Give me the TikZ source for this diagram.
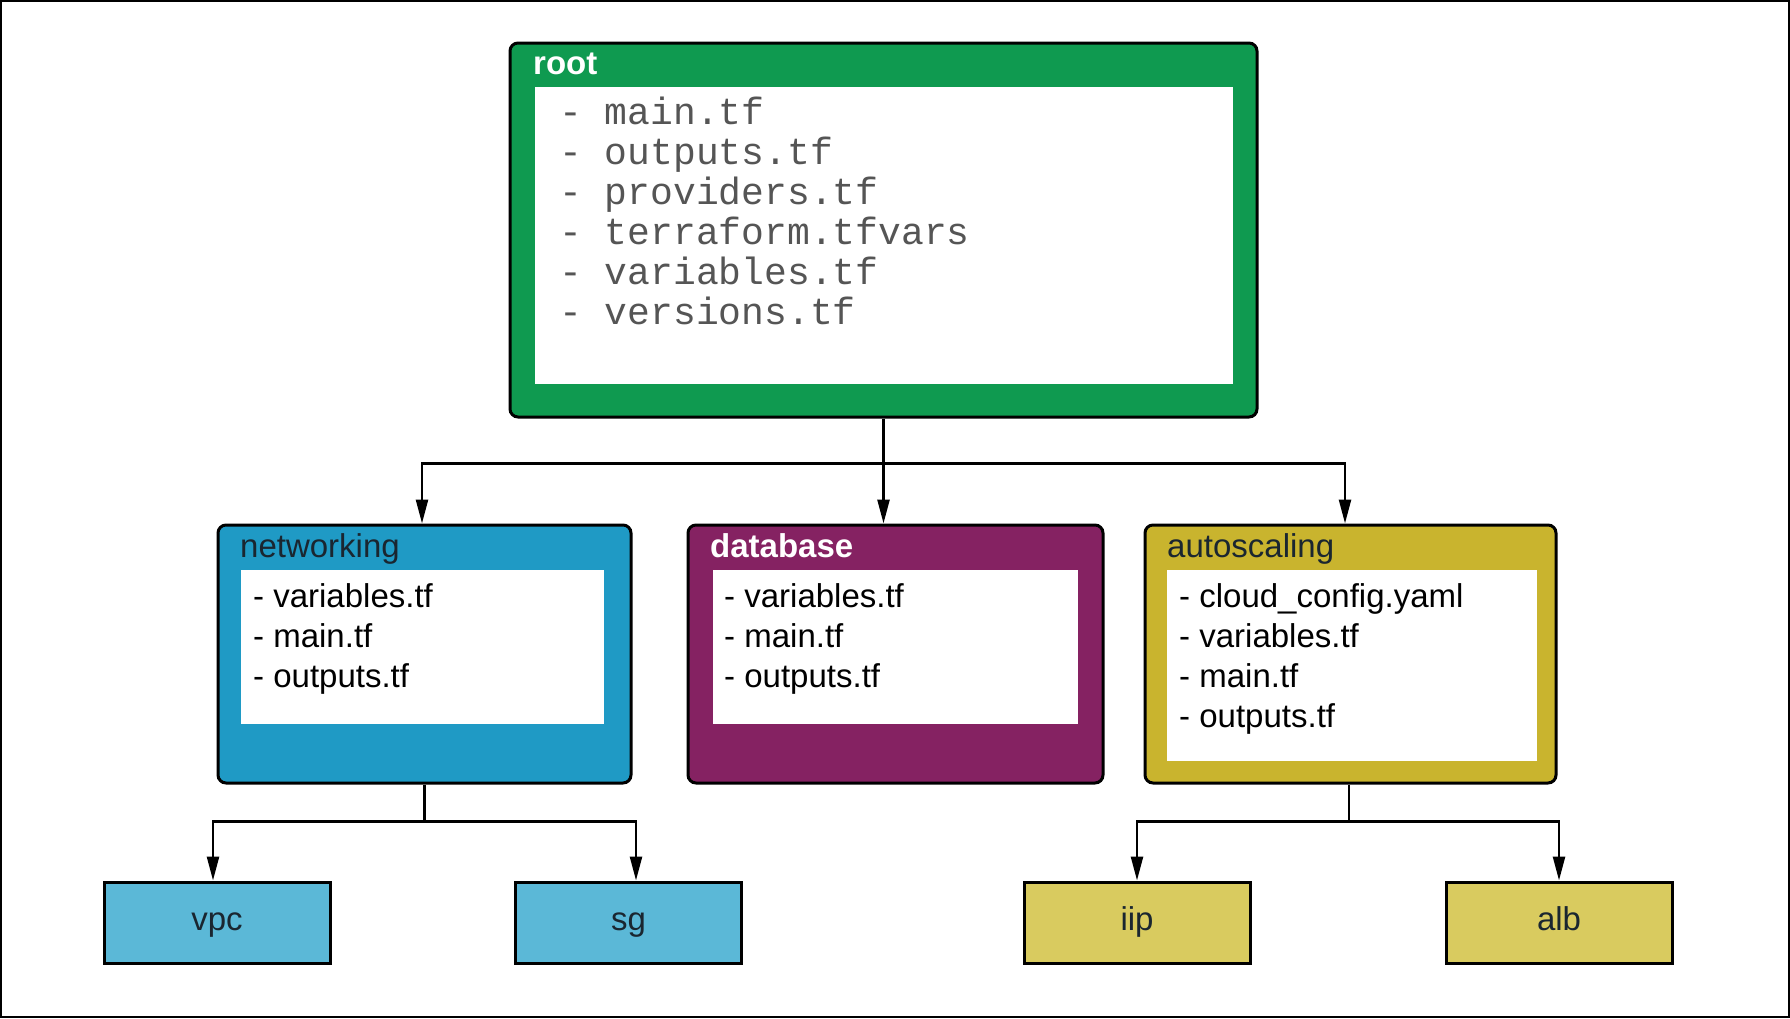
\documentclass[tikz,border=0pt]{standalone}
\usepackage{fontspec}
\setmainfont{Liberation Sans}
\setmonofont{Liberation Mono}
\usetikzlibrary{arrows.meta}
\definecolor{rootgreen}{HTML}{0F9A50}
\definecolor{netblue}{HTML}{1F9AC5}
\definecolor{dbpurple}{HTML}{852262}
\definecolor{asolive}{HTML}{C9B42E}
\definecolor{lightblue}{HTML}{5BB8D7}
\definecolor{lightolive}{HTML}{D9CB5F}
\definecolor{darktxt}{HTML}{1A2630}
\definecolor{monogray}{HTML}{555555}
\begin{document}
\begin{tikzpicture}[x=1pt,y=-1pt,
  bigbox/.style={draw=black, line width=3pt, rounded corners=8pt, inner sep=0pt, rectangle},
  whitebox/.style={fill=white, draw=none, inner sep=0pt, rectangle},
  leafbox/.style={draw=black, line width=3pt, inner sep=0pt, rectangle, minimum width=226, minimum height=81,
    font=\fontsize{33}{40}\selectfont, text=darktxt, text height=23.8pt, text depth=6.9pt},
  title/.style={anchor=base west, inner sep=0pt, font=\fontsize{33}{40}\selectfont},
  monoline/.style={anchor=base west, inner sep=0pt, font=\ttfamily\fontsize{38}{40}\selectfont, text=monogray},
  sansline/.style={anchor=base west, inner sep=0pt, font=\fontsize{33}{40}\selectfont, text=black},
  conn/.style={line width=2.5pt, -{Triangle[length=24pt,width=12pt]}},
  plain/.style={line width=2.5pt}]
\useasboundingbox (0,0) rectangle (1790,1018);
\draw[line width=2pt] (1,1) rectangle (1789,1017);

% root
\node[bigbox, fill=rootgreen, minimum width=747, minimum height=374] (root) at (883.5,230) {};
\node[whitebox, minimum width=698, minimum height=297] (rootin) at (884,235.5) {};
\node[title, text=white, font=\bfseries\fontsize{33}{40}\selectfont] (roott) at (533,74) {root};
\node[monoline] (r1) at (559,124) {- main.tf};
\node[monoline] (r2) at (559,164) {- outputs.tf};
\node[monoline] (r3) at (559,204) {- providers.tf};
\node[monoline] (r4) at (559,244) {- terraform.tfvars};
\node[monoline] (r5) at (559,284) {- variables.tf};
\node[monoline] (r6) at (559,324) {- versions.tf};

% networking
\node[bigbox, fill=netblue, minimum width=413, minimum height=258] (networking) at (424.5,654) {};
\node[whitebox, minimum width=363, minimum height=154] (netin) at (422.5,647) {};
\node[title, text=darktxt] (nett) at (240,557) {networking};
\node[sansline] (n1) at (253,607) {- variables.tf};
\node[sansline] (n2) at (253,647) {- main.tf};
\node[sansline] (n3) at (253,687) {- outputs.tf};

% database
\node[bigbox, fill=dbpurple, minimum width=415, minimum height=258] (database) at (895.5,654) {};
\node[whitebox, minimum width=365, minimum height=154] (dbin) at (895.5,647) {};
\node[title, text=white, font=\bfseries\fontsize{33}{40}\selectfont] (dbt) at (710,557) {database};
\node[sansline] (d1) at (724,607) {- variables.tf};
\node[sansline] (d2) at (724,647) {- main.tf};
\node[sansline] (d3) at (724,687) {- outputs.tf};

% autoscaling
\node[bigbox, fill=asolive, minimum width=411, minimum height=258] (autoscaling) at (1350.5,654) {};
\node[whitebox, minimum width=370, minimum height=191] (asin) at (1352,665.5) {};
\node[title, text=darktxt] (ast) at (1167,557) {autoscaling};
\node[sansline] (a1) at (1179,607) {- cloud\_config.yaml};
\node[sansline] (a2) at (1179,647) {- variables.tf};
\node[sansline] (a3) at (1179,687) {- main.tf};
\node[sansline] (a4) at (1179,727) {- outputs.tf};

% leaves
\node[leafbox, fill=lightblue] (vpc) at (217,922.5) {vpc};
\node[leafbox, fill=lightblue] (sg) at (628.5,922.5) {sg};
\node[leafbox, fill=lightolive] (iip) at (1137,922.5) {iip};
\node[leafbox, fill=lightolive] (alb) at (1559,922.5) {alb};

% connectors
\draw[plain] (root.south) -- ++(0,45) coordinate (rj);
\draw[conn] (rj) -| ([xshift=-2.5pt]networking.north);
\draw[conn] (rj) -- (rj |- database.north);
\draw[conn] (rj) -| ([xshift=-5.5pt]autoscaling.north);

\draw[plain] (networking.south) -- ++(0,37) coordinate (nj);
\draw[conn] (nj) -| ([xshift=-4pt]vpc.north);
\draw[conn] (nj) -| ([xshift=7.5pt]sg.north);

\draw[plain] ([xshift=-1.5pt]autoscaling.south) -- ++(0,37) coordinate (aj);
\draw[conn] (aj) -| (iip.north);
\draw[conn] (aj) -| (alb.north);
\end{tikzpicture}
\end{document}
